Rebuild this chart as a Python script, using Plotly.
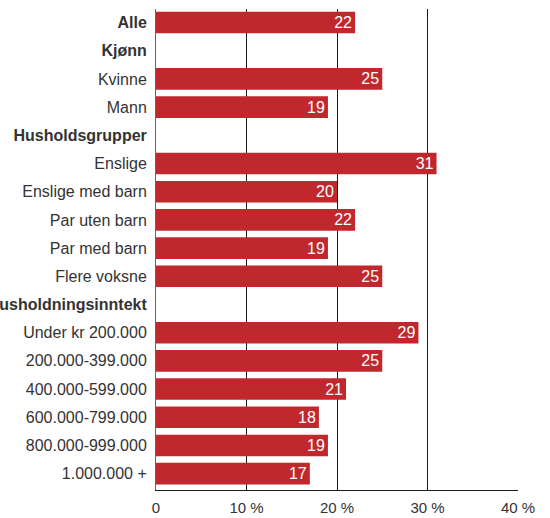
import plotly.graph_objects as go

# Row labels (group headers are bold and carry no bar)
categories = [
    "Alle", "Kjønn", "Kvinne", "Mann", "Husholdsgrupper", "Enslige",
    "Enslige med barn", "Par uten barn", "Par med barn", "Flere voksne",
    "Husholdningsinntekt", "Under kr 200.000", "200.000-399.000",
    "400.000-599.000", "600.000-799.000", "800.000-999.000", "1.000.000 +",
]
is_header = [True, True, False, False, True, False, False, False, False, False,
             True, False, False, False, False, False, False]
values = [22, None, 25, 19, None, 31, 20, 22, 19, 25,
          None, 29, 25, 21, 18, 19, 17]

tick_vals = [0, 10, 20, 30, 40]
tick_text = ["0", "10 %", "20 %", "30 %", "40 %"]

FONT = "Liberation Sans, Arial, sans-serif"

labels = [f"<b>{c}</b>" if h else c for c, h in zip(categories, is_header)]
bar_text = ["" if v is None else str(v) for v in values]

fig = go.Figure(
    go.Bar(
        y=labels,
        x=values,
        orientation="h",
        marker=dict(color="#c1282e", line=dict(width=0)),
        text=bar_text,
        textposition="inside",
        insidetextanchor="end",
        textangle=0,
        constraintext="none",
        textfont=dict(color="white", size=16, family=FONT),
        hoverinfo="skip",
    )
)

fig.update_layout(
    width=550,
    height=518,
    margin=dict(l=156, r=32, t=9, b=28),
    paper_bgcolor="white",
    plot_bgcolor="white",
    bargap=0.234,
    showlegend=False,
    font=dict(family=FONT, color="#333333"),
    uniformtext=dict(minsize=16, mode="show"),
)

fig.update_xaxes(
    range=[0, 40],
    tickvals=tick_vals,
    ticktext=tick_text,
    showgrid=True,
    gridcolor="#1a1a1a",
    gridwidth=1,
    zeroline=False,
    showline=True,
    linecolor="#1a1a1a",
    linewidth=1,
    ticks="",
    ticklabelstandoff=4,
    automargin=False,
    tickfont=dict(size=15, color="#333333", family=FONT),
)

fig.update_yaxes(
    type="category",
    categoryorder="array",
    categoryarray=labels,
    range=[16.58, -0.48],
    showgrid=False,
    zeroline=False,
    showline=True,
    linecolor="#666666",
    linewidth=1,
    ticks="",
    ticklabelstandoff=5,
    automargin=False,
    tickfont=dict(size=16, color="#333333", family=FONT),
)

fig.write_html("out.html")
